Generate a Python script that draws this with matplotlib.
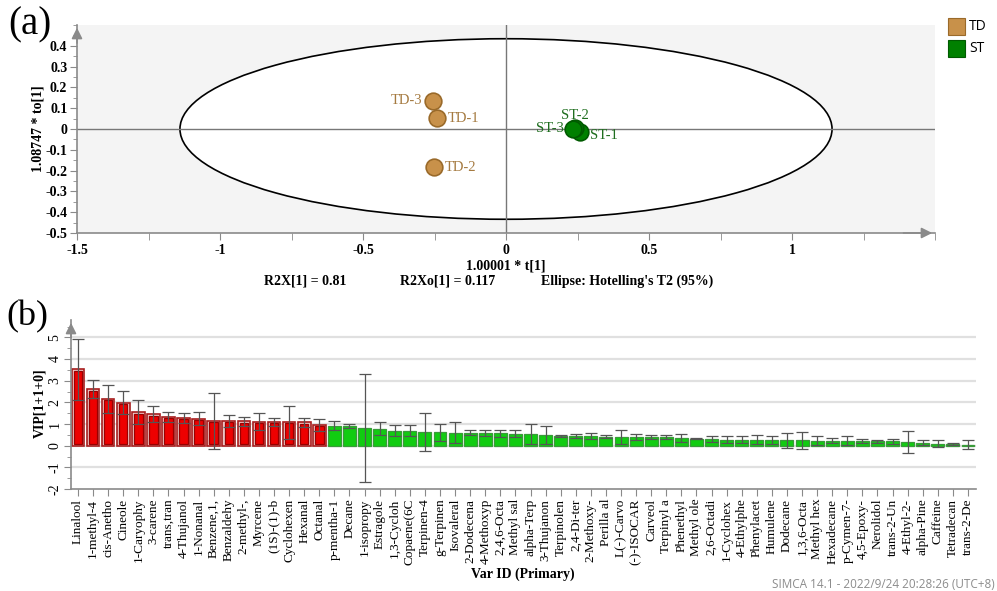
import matplotlib
matplotlib.use("Agg")
import matplotlib.pyplot as plt
from matplotlib.patches import Ellipse, Rectangle
from matplotlib.ticker import MultipleLocator
import numpy as np

# ---------------- data ----------------
td_names = ["TD-1", "TD-2", "TD-3"]
td_t = [-0.242, -0.253, -0.255]
td_to = [0.051, -0.185, 0.135]
st_names = ["ST-1", "ST-2", "ST-3"]
st_t = [0.259, 0.241, 0.235]
st_to = [-0.013, 0.006, 0.000]
ellipse_a = 1.14
ellipse_b = 0.434

var_names = ["Linalool", "1-methyl-4", "cis-Anetho", "Cineole", "1-Caryophy", "3-carene",
             "trans,tran", "4-Thujanol", "1-Nonanal", "Benzene,1,", "Benzaldehy", "2-methyl-,",
             "Myrcene", "(1S)-(1)-b", "Cyclohexen", "Hexanal", "Octanal", "p-mentha-1", "Decane",
             "1-isopropy", "Estragole", "1,3-Cycloh", "Copaene(6C", "Terpinen-4", "g-Terpinen",
             "Isovaleral", "2-Dodecena", "4-Methoxyp", "2,4,6-Octa", "Methyl sal", "alpha-Terp",
             "3-Thujanon", "Terpinolen", "2,4-Di-ter", "2-Methoxy-", "Perilla al", "L(-)-Carvo",
             "(-)-ISOCAR", "Carveol", "Terpinyl a", "Phenethyl", "Methyl ole", "2,6-Octadi",
             "1-Cyclohex", "4-Ethylphe", "Phenylacet", "Humulene", "Dodecane", "1,3,6-Octa",
             "Methyl hex", "Hexadecane", "p-Cymen-7-", "4,5-Epoxy-", "Nerolidol", "trans-2-Un",
             "4-Ethyl-2-", "alpha-Pine", "Caffeine", "Tetradecan", "trans-2-De"]
vip = [3.52, 2.60, 2.17, 1.98, 1.54, 1.44, 1.32, 1.28, 1.25, 1.14, 1.13, 1.12, 1.11, 1.10,
       1.09, 1.08, 0.96,
       0.93, 0.90, 0.82, 0.79, 0.70, 0.69, 0.63, 0.62, 0.60, 0.60, 0.58, 0.57, 0.56, 0.54,
       0.50, 0.46, 0.45, 0.43, 0.42, 0.40, 0.40, 0.39, 0.39, 0.35, 0.33, 0.29, 0.28, 0.28,
       0.27, 0.26, 0.24, 0.24, 0.23, 0.23, 0.22, 0.22, 0.21, 0.20, 0.17, 0.14, 0.09, 0.07, 0.05]
vip_err = [1.40, 0.42, 0.64, 0.54, 0.55, 0.37, 0.22, 0.22, 0.30, 1.30, 0.29, 0.21, 0.40, 0.20,
           0.76, 0.22, 0.29,
           0.22, 0.09, 2.50, 0.28, 0.25, 0.25, 0.89, 0.40, 0.47, 0.13, 0.14, 0.17, 0.18, 0.44,
           0.42, 0.05, 0.09, 0.14, 0.07, 0.34, 0.12, 0.10, 0.09, 0.17, 0.03, 0.14, 0.15, 0.17,
           0.21, 0.19, 0.34, 0.40, 0.20, 0.12, 0.21, 0.10, 0.07, 0.11, 0.49, 0.11, 0.17, 0.04, 0.20]
n_red = 17

# ---------------- style ----------------
SERIF = ["Liberation Serif", "DejaVu Serif"]
plt.rcParams["font.family"] = SERIF
TD_FACE = "#c8914a"
TD_EDGE = "#9a6a2a"
TD_TEXT = "#a57a40"
ST_FACE = "#008000"
ST_EDGE = "#005a00"
ST_TEXT = "#1f6e1f"
AX_GRAY = "#8a8a8a"

fig = plt.figure(figsize=(9.97, 5.91), dpi=100)

# ================= panel (a) =================
ax1 = fig.add_axes([77 / 997, 1 - 233 / 591, (935 - 77) / 997, (233 - 25) / 591])
ax1.set_facecolor("#f4f4f4")
ax1.set_xlim(-1.5, 1.5)
ax1.set_ylim(-0.5, 0.5)
ell = Ellipse((0, 0), 2 * ellipse_a, 2 * ellipse_b, facecolor="white",
              edgecolor="black", lw=1.2, zorder=1)
ax1.add_patch(ell)
ax1.axhline(0, color="#777777", lw=1, zorder=2)
ax1.axvline(0, color="#777777", lw=1, zorder=2)

ax1.plot(td_t, td_to, "o", ms=12, mfc=TD_FACE, mec=TD_EDGE, mew=1.2, zorder=4)
ax1.plot(st_t, st_to, "o", ms=12, mfc=ST_FACE, mec=ST_EDGE, mew=1.2, zorder=4)

td_offsets = {"TD-1": (8, 0, "left"), "TD-2": (8, 0, "left"), "TD-3": (-8, 0, "right")}
for n, x, y in zip(td_names, td_t, td_to):
    dx, dy, ha = td_offsets[n]
    ax1.annotate(n, (x, y), xytext=(dx, dy), textcoords="offset points", ha=ha,
                 va="center", color=TD_TEXT, fontsize=10.5, zorder=5)
st_offsets = {"ST-1": (7, -3, "left", "center"), "ST-2": (0, 9, "center", "center"),
              "ST-3": (-7, 0, "right", "center")}
for n, x, y in zip(st_names, st_t, st_to):
    dx, dy, ha, va = st_offsets[n]
    ax1.annotate(n, (x, y), xytext=(dx, dy), textcoords="offset points", ha=ha,
                 va=va, color=ST_TEXT, fontsize=10.5, zorder=5)

for s in ["top", "right"]:
    ax1.spines[s].set_visible(False)
for s in ["left", "bottom"]:
    ax1.spines[s].set_color(AX_GRAY)
    ax1.spines[s].set_linewidth(1.2)
ax1.xaxis.set_minor_locator(MultipleLocator(0.25))
ax1.yaxis.set_minor_locator(MultipleLocator(0.05))
ax1.set_yticks(np.round(np.arange(-0.5, 0.41, 0.1), 2))
ax1.set_xticks([-1.5, -1, -0.5, 0, 0.5, 1])
ax1.set_xticklabels(["-1.5", "-1", "-0.5", "0", "0.5", "1"])
ax1.set_yticklabels(["-0.5", "-0.4", "-0.3", "-0.2", "-0.1", "0", "0.1", "0.2", "0.3", "0.4"])
ax1.tick_params(which="major", length=5, color=AX_GRAY, labelsize=10, pad=2)
ax1.tick_params(axis="x", which="major", pad=3)
ax1.tick_params(which="minor", length=5, color=AX_GRAY)
ax1.tick_params(axis="y", which="minor", length=3)
for lab in ax1.get_xticklabels() + ax1.get_yticklabels():
    lab.set_fontweight("bold")
# arrows
ax1.annotate("", xy=(0, 1.0), xycoords="axes fraction", xytext=(0, 0.9),
             arrowprops=dict(arrowstyle="-|>", color=AX_GRAY, lw=1.2, mutation_scale=16))
ax1.annotate("", xy=(1.0, 0), xycoords="axes fraction", xytext=(0.96, 0),
             arrowprops=dict(arrowstyle="-|>", color=AX_GRAY, lw=1.2, mutation_scale=16))

fig.text(506 / 997, 1 - 266 / 591, "1.00001 * t[1]", ha="center", va="center",
         fontsize=10, fontweight="bold")
fig.text(305 / 997, 1 - 281 / 591, "R2X[1] = 0.81", ha="center", va="center",
         fontsize=10, fontweight="bold")
fig.text(448 / 997, 1 - 281 / 591, "R2Xo[1] = 0.117", ha="center", va="center",
         fontsize=10, fontweight="bold")
fig.text(627 / 997, 1 - 281 / 591, "Ellipse: Hotelling's T2 (95%)", ha="center", va="center",
         fontsize=10, fontweight="bold")
fig.text(38 / 997, 1 - 129 / 591, "1.08747 * to[1]", ha="center", va="center",
         rotation=90, fontsize=10, fontweight="bold")

# legend
for i, (lab, fc, ec) in enumerate([("TD", TD_FACE, TD_EDGE), ("ST", ST_FACE, ST_EDGE)]):
    y0 = 18 + i * 22
    fig.patches.append(Rectangle((948 / 997, 1 - (y0 + 17) / 591), 17 / 997, 17 / 591,
                                 transform=fig.transFigure, facecolor=fc, edgecolor=ec,
                                 lw=0.8))
    fig.text(969 / 997, 1 - (y0 + 8.5) / 591, lab, ha="left", va="center",
             fontsize=10, family=["Open Sans", "DejaVu Sans"])

fig.text(8 / 997, 1 - 25 / 591, "(a)", ha="left", va="center", fontsize=28)

# ================= panel (b) =================
ax2 = fig.add_axes([71 / 997, 1 - 489 / 591, (976 - 71) / 997, (489 - 320) / 591])
x = np.arange(len(var_names))
ax2.set_xlim(-0.46, len(var_names) - 1 + 0.53)
ax2.set_ylim(-2, 5.8)
for yv in range(-1, 6):
    ax2.axhline(yv, color="#e0e0e0", lw=1.6, zorder=0)

vip_arr = np.array(vip)
# red (selected) bars: outer pale band + inner red bar
ax2.bar(x[:n_red], vip_arr[:n_red], width=0.84, color="#ecc4c4", edgecolor="#a81e1e",
        lw=1.2, zorder=2)
ax2.bar(x[:n_red], vip_arr[:n_red] - 0.13, bottom=0.07, width=0.56, color="#ee0000",
        edgecolor="#9a0000", lw=0.9, zorder=3)
# green bars
ax2.bar(x[n_red:], vip_arr[n_red:], width=0.86, color="#11cc11", edgecolor="#3a9a3a",
        lw=0.9, zorder=2)
ax2.errorbar(x, vip_arr, yerr=vip_err, fmt="none", ecolor="#555555", elinewidth=0.9,
             capsize=4, capthick=0.9, zorder=4)

ax2.set_xticks(x)
ax2.set_xticklabels(var_names, rotation=90, fontsize=9.5)
ax2.set_yticks(range(-2, 6))
ax2.set_yticklabels([str(v) for v in range(-2, 6)], rotation=90, va="center", fontsize=10)
ax2.yaxis.set_minor_locator(MultipleLocator(0.5))
for s in ["top", "right"]:
    ax2.spines[s].set_visible(False)
for s in ["left", "bottom"]:
    ax2.spines[s].set_color(AX_GRAY)
    ax2.spines[s].set_linewidth(1.2)
ax2.tick_params(which="major", length=5, color=AX_GRAY, pad=2)
ax2.tick_params(axis="y", which="minor", length=3, color=AX_GRAY)
ax2.annotate("", xy=(0, 1.0), xycoords="axes fraction", xytext=(0, 0.88),
             arrowprops=dict(arrowstyle="-|>", color=AX_GRAY, lw=1.2, mutation_scale=16))

fig.text(40 / 997, 1 - 403 / 591, "VIP[1+1+0]", ha="center", va="center", rotation=90,
         fontsize=10, fontweight="bold")
fig.text(523 / 997, 1 - 574 / 591, "Var ID (Primary)", ha="center", va="center",
         fontsize=10, fontweight="bold")
fig.text(995 / 997, 1 - 584 / 591, "SIMCA 14.1 - 2022/9/24 20:28:26 (UTC+8)", ha="right",
         va="center", fontsize=8.5, color="#8c8c8c", family=["Open Sans", "DejaVu Sans"])
fig.text(6 / 997, 1 - 317 / 591, "(b)", ha="left", va="center", fontsize=26)

fig.savefig("out.png", dpi=100)
